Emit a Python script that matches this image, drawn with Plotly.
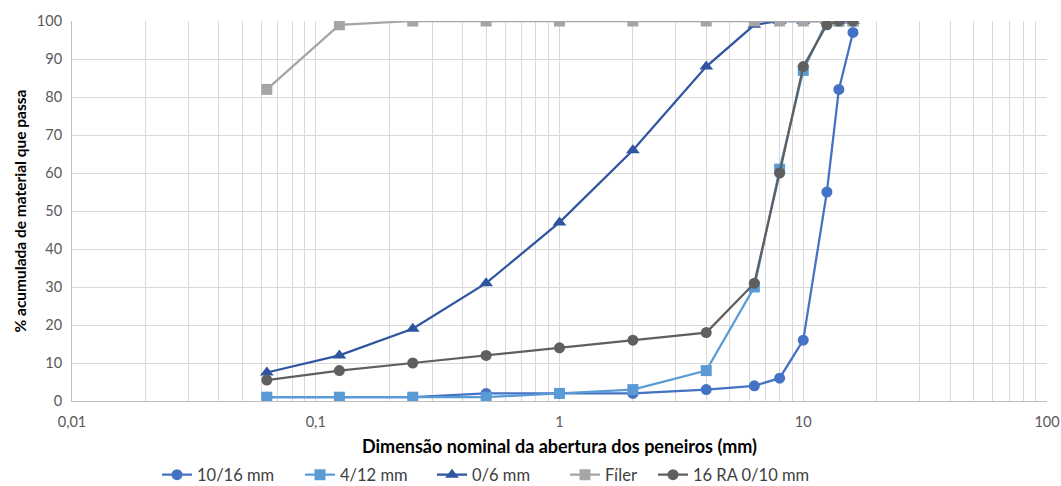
import plotly.graph_objects as go

sieves = [0.063, 0.125, 0.25, 0.5, 1, 2, 4, 6.3, 8, 10, 12.5, 14, 16]
s_10_16 = [1, 1, 1, 2, 2, 2, 3, 4, 6, 16, 55, 82, 97]
s_4_12 = [1, 1, 1, 1, 2, 3, 8, 30, 61, 87, 100, 100, 100]
s_0_6 = [7.5, 12, 19, 31, 47, 66, 88, 99, 100, 100, 100, 100, 100]
s_filer = [82, 99, 100, 100, 100, 100, 100, 100, 100, 100, 100, 100, 100]
s_ra = [5.5, 8, 10, 12, 14, 16, 18, 31, 60, 88, 99, 100, 100]

names = ["10/16 mm", "4/12 mm", "0/6 mm", "Fíler", "16 RA 0/10 mm"]
colors = ["#4472C4", "#5B9BD5", "#2F55A0", "#A5A5A5", "#5F5F5F"]
symbols = ["circle", "square", "triangle-up", "square", "circle"]
series = [s_10_16, s_4_12, s_0_6, s_filer, s_ra]

W, H = 1061, 486
L, R, T, B = 72, 14, 21, 85
plot_w = W - L - R
plot_h = H - T - B

legend_left_px = [157, 300, 432, 565, 653]
legend_ids = ["legend", "legend2", "legend3", "legend4", "legend5"]

fig = go.Figure()
for n, c, s, y, lg in zip(names, colors, symbols, series, legend_ids):
    fig.add_trace(go.Scatter(
        x=sieves, y=y, name=n, mode="lines+markers",
        line=dict(color=c, width=2.25),
        marker=dict(color=c, symbol=s, size=11 if s != "triangle-up" else 12),
        legend=lg,
    ))

tick_labels = {0.01: "0,01", 0.1: "0,1", 1: "1", 10: "10"}
tickvals = []
ticktext = []
for dec in [0.01, 0.1, 1, 10]:
    for k in range(1, 10):
        tickvals.append(round(dec * k, 6))
        ticktext.append(tick_labels[dec] if k == 1 else "")
tickvals.append(100)
ticktext.append("100")

font = "Lato, 'Open Sans', sans-serif"
legends = {}
for lg, px in zip(legend_ids, legend_left_px):
    legends[lg] = dict(
        orientation="h", x=(px - L) / plot_w, xanchor="left",
        y=-(475 - (H - B)) / plot_h, yanchor="middle",
        font=dict(size=16.5, color="#404040"),
        itemwidth=30, bgcolor="rgba(0,0,0,0)",
    )

fig.update_layout(
    width=W, height=H,
    margin=dict(l=L, r=R, t=T, b=B, autoexpand=False),
    paper_bgcolor="white", plot_bgcolor="white",
    font=dict(family=font, color="#595959", size=15),
    showlegend=True,
    **legends,
)
fig.update_xaxes(
    type="log", range=[-2, 2], automargin=False,
    tickvals=tickvals, ticktext=ticktext,
    showgrid=True, gridcolor="#D9D9D9", gridwidth=1,
    showline=True, linecolor="#BFBFBF", linewidth=1,
    ticks="", zeroline=False, ticklabelstandoff=8,
    tickfont=dict(size=14.5, color="#595959"),
    title=dict(text="<b>Dimensão nominal da abertura dos peneiros (mm)</b>",
               font=dict(size=18, color="#000000"), standoff=10),
)
fig.update_yaxes(
    range=[0, 100], dtick=10, automargin=False,
    showgrid=True, gridcolor="#D9D9D9", gridwidth=1,
    showline=True, linecolor="#BFBFBF", linewidth=1,
    ticks="", zeroline=False, ticklabelstandoff=6,
    tickfont=dict(size=14.5, color="#595959"),
    title=dict(text="<b>% acumulada de material que passa</b>",
               font=dict(size=15.5, color="#000000"), standoff=6),
)

fig.write_html("out.html", config={"displayModeBar": False},
               post_script="document.body.style.margin='0';")
